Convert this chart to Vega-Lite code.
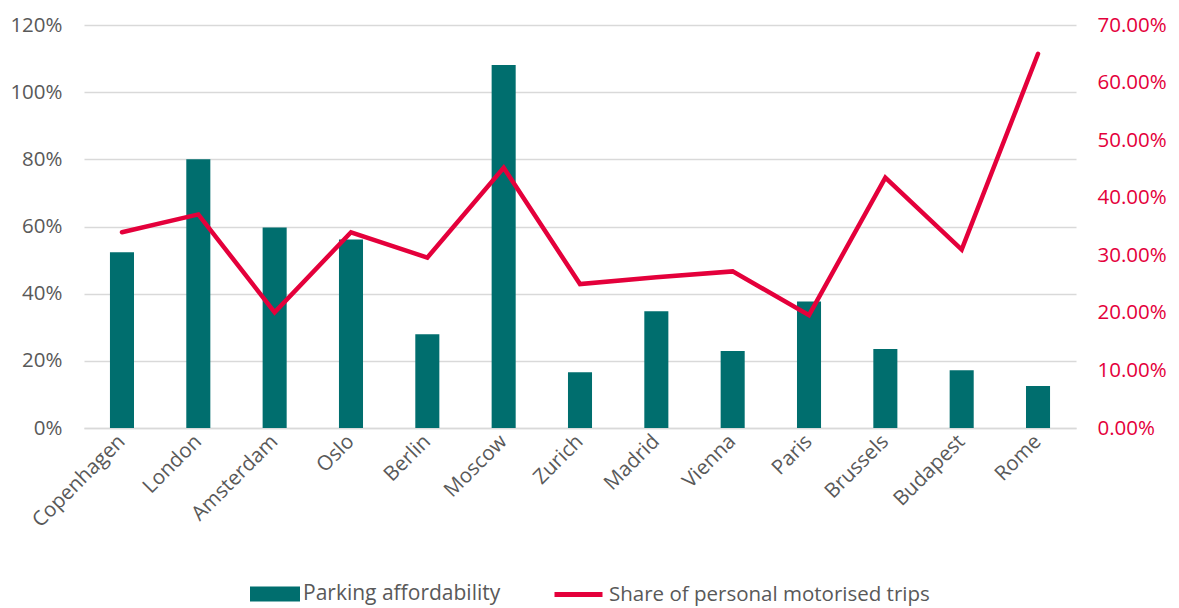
{
  "$schema": "https://vega.github.io/schema/vega-lite/v6.json",
  "width": 992,
  "height": 403,
  "autosize": "none",
  "padding": {"left": 84, "top": 25, "right": 103, "bottom": 180},
  "background": "white",
  "config": {
    "view": {"stroke": null},
    "font": "Open Sans",
    "axis": {"labelFont": "Open Sans", "labelFontSize": 20.5, "labelColor": "#595959", "ticks": false, "domain": false, "grid": false}
  },
  "data": {"values": [
    {"city": "Copenhagen", "parking": 0.523, "share": 0.340, "p": "Parking affordability", "s": "Share of personal motorised trips"},
    {"city": "London", "parking": 0.800, "share": 0.371, "p": "Parking affordability", "s": "Share of personal motorised trips"},
    {"city": "Amsterdam", "parking": 0.597, "share": 0.201, "p": "Parking affordability", "s": "Share of personal motorised trips"},
    {"city": "Oslo", "parking": 0.561, "share": 0.340, "p": "Parking affordability", "s": "Share of personal motorised trips"},
    {"city": "Berlin", "parking": 0.279, "share": 0.296, "p": "Parking affordability", "s": "Share of personal motorised trips"},
    {"city": "Moscow", "parking": 1.081, "share": 0.452, "p": "Parking affordability", "s": "Share of personal motorised trips"},
    {"city": "Zurich", "parking": 0.166, "share": 0.250, "p": "Parking affordability", "s": "Share of personal motorised trips"},
    {"city": "Madrid", "parking": 0.348, "share": 0.262, "p": "Parking affordability", "s": "Share of personal motorised trips"},
    {"city": "Vienna", "parking": 0.229, "share": 0.272, "p": "Parking affordability", "s": "Share of personal motorised trips"},
    {"city": "Paris", "parking": 0.377, "share": 0.196, "p": "Parking affordability", "s": "Share of personal motorised trips"},
    {"city": "Brussels", "parking": 0.235, "share": 0.435, "p": "Parking affordability", "s": "Share of personal motorised trips"},
    {"city": "Budapest", "parking": 0.172, "share": 0.310, "p": "Parking affordability", "s": "Share of personal motorised trips"},
    {"city": "Rome", "parking": 0.125, "share": 0.650, "p": "Parking affordability", "s": "Share of personal motorised trips"}
  ]},
  "encoding": {
    "x": {"field": "city", "type": "nominal", "sort": null, "title": null,
      "scale": {"paddingInner": 0.685, "paddingOuter": 0.34},
      "axis": {"labelAngle": -45, "labelAlign": "right", "labelBaseline": "middle", "labelPadding": 10, "domain": true, "domainColor": "#D9D9D9", "domainWidth": 1.5}}
  },
  "layer": [
    {
      "mark": {"type": "bar", "color": "#006E6E"},
      "encoding": {
        "y": {"field": "parking", "type": "quantitative", "title": null,
          "scale": {"domain": [0, 1.2]},
          "axis": {"format": ".0%", "values": [0, 0.2, 0.4, 0.6, 0.8, 1.0, 1.2], "grid": true, "gridColor": "#D9D9D9", "gridWidth": 1.5, "labelPadding": 22}},
        "fill": {"field": "p", "type": "nominal", "title": null,
          "scale": {"range": ["#006E6E"]},
          "legend": {"orient": "none", "legendX": 166, "legendY": 544, "padding": 0, "labelLimit": 500,
            "symbolType": "M-1,-0.3H1V0.3H-1Z", "symbolSize": 2500, "symbolStrokeWidth": 0, "symbolFillColor": "#006E6E",
            "labelFont": "Open Sans", "labelFontSize": 21, "labelColor": "#595959", "labelOffset": 3}}
      }
    },
    {
      "mark": {"type": "line", "strokeWidth": 4.5, "strokeCap": "round", "strokeJoin": "miter"},
      "encoding": {
        "y": {"field": "share", "type": "quantitative", "title": null,
          "scale": {"domain": [0, 0.7]},
          "axis": {"orient": "right", "format": ".2%", "values": [0, 0.1, 0.2, 0.3, 0.4, 0.5, 0.6, 0.7], "labelColor": "#E4003B", "labelPadding": 21, "grid": false}},
        "stroke": {"field": "s", "type": "nominal", "title": null,
          "scale": {"range": ["#E4003B"]},
          "legend": {"orient": "none", "legendX": 468, "legendY": 543, "padding": 0, "labelLimit": 500,
            "symbolType": "stroke", "symbolSize": 2304, "symbolStrokeWidth": 5, "symbolStrokeColor": "#E4003B",
            "labelFont": "Open Sans", "labelFontSize": 20.5, "labelColor": "#595959", "labelOffset": 4}}
      }
    }
  ],
  "resolve": {"scale": {"y": "independent"}}
}
